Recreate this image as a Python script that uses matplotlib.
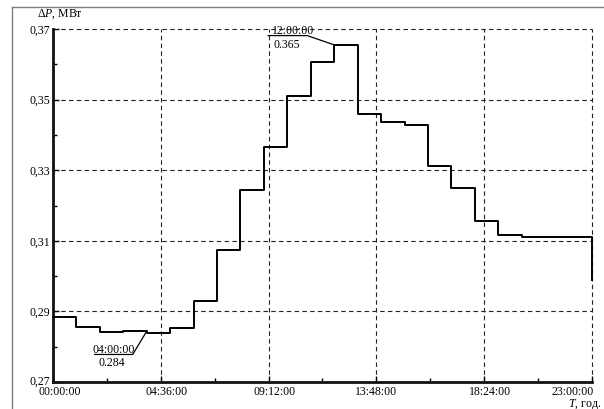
import matplotlib
matplotlib.use("Agg")
import matplotlib.pyplot as plt
import matplotlib.transforms as mtransforms
from matplotlib.lines import Line2D

# ---- data ----
hours = list(range(24))
power = [0.2884, 0.2855, 0.2842, 0.2844, 0.2838, 0.2853, 0.2930, 0.3074,
         0.3244, 0.3367, 0.3509, 0.3606, 0.3655, 0.3459, 0.3436, 0.3427,
         0.3313, 0.3250, 0.3157, 0.3116, 0.3112, 0.3110, 0.3111, 0.2989]

xticks = [0.0, 4.6, 9.2, 13.8, 18.4, 23.0]
xtick_labels = ["00:00:00", "04:36:00", "09:12:00", "13:48:00", "18:24:00", "23:00:00"]
xminor = [2.3, 6.9, 11.5, 16.1, 20.7]
yticks = [0.27, 0.29, 0.31, 0.33, 0.35, 0.37]
ytick_labels = ["0,27", "0,29", "0,31", "0,33", "0,35", "0,37"]
yminor = [0.28, 0.30, 0.32, 0.34, 0.36]

ann_hours = [4, 12]
ann_index = [3, 12]
ann_times = ["04:00:00", "12:00:00"]
ann_values = ["0.284", "0.365"]

plt.rcParams['font.family'] = ['Liberation Serif', 'DejaVu Serif']
plt.rcParams['mathtext.fontset'] = 'custom'
plt.rcParams['mathtext.rm'] = 'Liberation Serif'
plt.rcParams['mathtext.it'] = 'Liberation Serif:italic'

W, H = 604, 409
fig = plt.figure(figsize=(W / 100, H / 100), dpi=100)
fig.patch.set_facecolor('white')

# outer frame (left and top edges visible)
fig.add_artist(Line2D([12 / W, 12 / W], [0, 1 - 7 / H], color='#7f7f7f', lw=1.0))
fig.add_artist(Line2D([12 / W, 1], [1 - 7 / H, 1 - 7 / H], color='#7f7f7f', lw=1.0))

ax = fig.add_axes([53 / W, 1 - 382 / H, (592 - 53) / W, (382 - 29) / H])
ax.set_xlim(0, 23)
ax.set_ylim(0.27, 0.37)

ax.step(hours, power, where='post', color='black', lw=1.4, clip_on=False, zorder=3)

ax.set_xticks(xticks)
ax.set_xticklabels(xtick_labels)
ax.set_xticks(xminor, minor=True)
ax.set_yticks(yticks)
ax.set_yticklabels(ytick_labels)
ax.set_yticks(yminor, minor=True)

ax.grid(True, which='major', linestyle=(0, (4, 3)), color='#222222', lw=0.8)
for gl in ax.get_xgridlines() + ax.get_ygridlines():
    gl.set_clip_on(False)

for s in ['top', 'right']:
    ax.spines[s].set_visible(False)
for s in ['left', 'bottom']:
    ax.spines[s].set_linewidth(2.0)
    ax.spines[s].set_color('#111111')

ax.tick_params(which='major', direction='in', length=4, width=1, labelsize=8.5)
ax.tick_params(axis='y', which='major', pad=2)
ax.tick_params(axis='x', which='major', pad=3)
ax.tick_params(which='minor', direction='in', length=3, width=1)

# small horizontal shifts of x tick labels as in the reference (pixels)
label_shift = [7, 6, 6, 0, 6, -19]
for lab, dx in zip(ax.get_xticklabels(), label_shift):
    lab.set_transform(lab.get_transform() + mtransforms.Affine2D().translate(dx, 0))
# lowest y label sits slightly above its tick
ylabs = ax.get_yticklabels()
ylabs[0].set_transform(ylabs[0].get_transform() + mtransforms.Affine2D().translate(0, 2))

# axis labels
fig.text(60 / W, 1 - 14 / H, "Δ$P$, МВт", ha='center', va='center', fontsize=8.5)
fig.text(601 / W, 1 - 404 / H, "$T$, год.", ha='right', va='center', fontsize=8.5)

# annotations (offsets in pixels relative to the data point)
ann_layout = [
    dict(line=[(-52, -23.3), (-14, -23.3), (0, 0)], t=(-32.7, -21.6), v=(-34.7, -35)),
    dict(line=[(-66, 9.3), (-27, 9.3), (0, 0)], t=(-41, 10.5), v=(-47, -3.3)),
]
for h, idx, tlab, vlab, lay in zip(ann_hours, ann_index, ann_times, ann_values, ann_layout):
    trans = mtransforms.IdentityTransform() + mtransforms.ScaledTranslation(h, power[idx], ax.transData)
    xs = [p[0] for p in lay['line']]
    ys = [p[1] for p in lay['line']]
    ln = Line2D(xs, ys, transform=trans, color='black', lw=0.9)
    ln.set_clip_on(False)
    fig.add_artist(ln)
    fig.text(lay['t'][0], lay['t'][1], tlab, transform=trans, ha='center', va='baseline', fontsize=8.5)
    fig.text(lay['v'][0], lay['v'][1], vlab, transform=trans, ha='center', va='baseline', fontsize=8.5)

fig.savefig("out.png", dpi=100)
